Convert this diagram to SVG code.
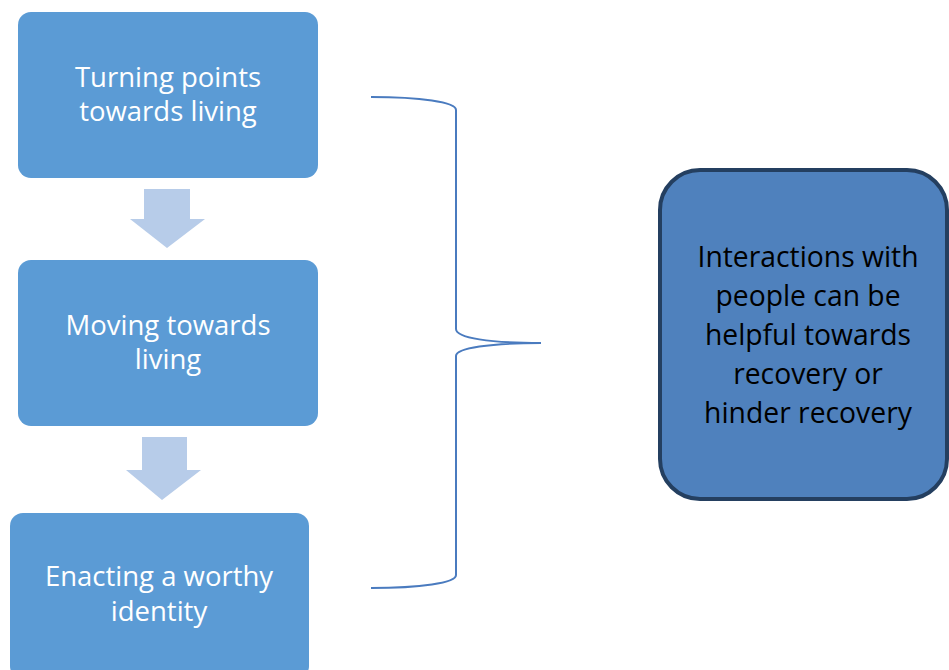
<svg xmlns="http://www.w3.org/2000/svg" width="949" height="670" viewBox="0 0 949 670">
<style>
.box{fill:#5b9bd5;}
.arrow{fill:#b7cce9;}
.t{font-family:"Open Sans","Liberation Sans",Arial,sans-serif;font-size:27.5px;text-anchor:middle;}
.r{font-size:28.3px;}
.w{fill:#ffffff;}
.k{fill:#000000;}
.brace{fill:none;stroke:#4a7bbf;stroke-width:2;}
</style>
<rect width="949" height="670" fill="#ffffff"/>
<g id="node-turning">
<rect class="box" x="18" y="12" width="300" height="166" rx="13"/>
<text class="t w" x="168" y="87">Turning points</text>
<text class="t w" x="168" y="121">towards living</text>
</g>
<g id="node-moving">
<rect class="box" x="18" y="260" width="300" height="166" rx="13"/>
<text class="t w" x="168" y="335">Moving towards</text>
<text class="t w" x="168" y="369">living</text>
</g>
<g id="node-enacting">
<rect class="box" x="10" y="513" width="299" height="166" rx="13"/>
<text class="t w" x="159" y="586">Enacting a worthy</text>
<text class="t w" x="159" y="621">identity</text>
</g>
<g id="node-interactions">
<rect x="660" y="170" width="287" height="329" rx="40" fill="#4f81bd" stroke="#243f60" stroke-width="4"/>
<text class="t r k" x="808" y="267">Interactions with</text>
<text class="t r k" x="808" y="306">people can be</text>
<text class="t r k" x="808" y="345">helpful towards</text>
<text class="t r k" x="808" y="384">recovery or</text>
<text class="t r k" x="808" y="423">hinder recovery</text>
</g>
<g id="connectors">
<polygon class="arrow" points="144,189 190,189 190,219 205,219 167,248 130,219 144,219"/>
<polygon class="arrow" points="142,437 187,437 187,470 201,470 162,500 126,470 142,470"/>
<path class="brace" d="M371,97 C420,97 456,102 456,110 L456,329 C456,338 490,343 541,343 C490,343 456,348 456,356 L456,575 C456,583 420,588 371,588"/>
</g>
</svg>
